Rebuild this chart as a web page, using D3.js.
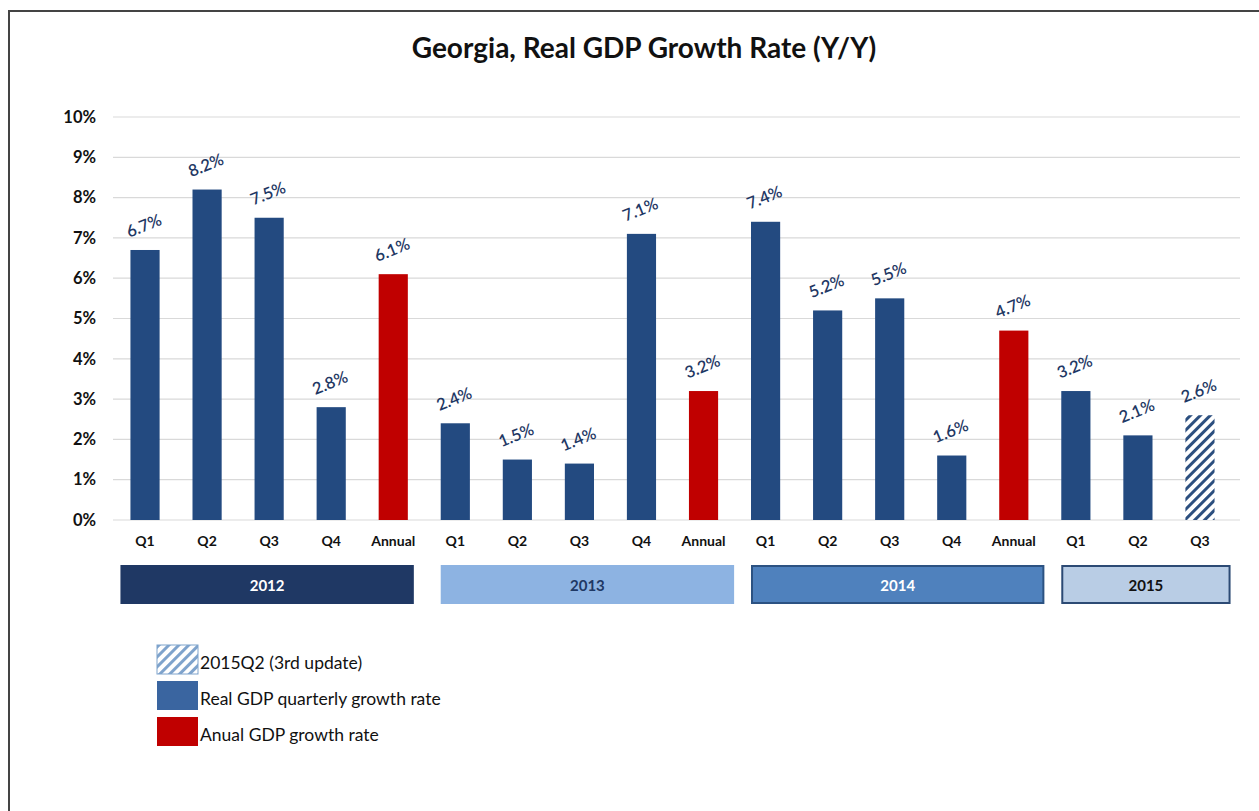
<!DOCTYPE html>
<html>
<head>
<meta charset="utf-8">
<script src="https://cdn.jsdelivr.net/npm/d3@7"></script>
<style>
  body { margin: 0; background: #fff; }
  text { font-family: Lato, "Open Sans", sans-serif; }
</style>
</head>
<body>
<script>
// data
const categories = ['Q1', 'Q2', 'Q3', 'Q4', 'Annual', 'Q1', 'Q2', 'Q3', 'Q4', 'Annual',
  'Q1', 'Q2', 'Q3', 'Q4', 'Annual', 'Q1', 'Q2', 'Q3'];
const growth = [6.7, 8.2, 7.5, 2.8, 6.1, 2.4, 1.5, 1.4, 7.1, 3.2, 7.4, 5.2, 5.5, 1.6, 4.7, 3.2, 2.1, 2.6];
const kinds = ['q', 'q', 'q', 'q', 'a', 'q', 'q', 'q', 'q', 'a', 'q', 'q', 'q', 'q', 'a', 'q', 'q', 'p'];
const years = ['2012', '2013', '2014', '2015'];
const yearStart = [0, 5, 10, 15];
const yearEnd = [4, 9, 14, 17];
const yTicks = [0, 1, 2, 3, 4, 5, 6, 7, 8, 9, 10];
const legendLabels = ['2015Q2 (3rd update)', 'Real GDP quarterly growth rate', 'Anual GDP growth rate'];

const W = 1259, H = 811;
const svg = d3.select('body').append('svg')
  .attr('width', W)
  .attr('height', H);

const defs = svg.append('defs');
const pat = defs.append('pattern')
  .attr('id', 'hatch')
  .attr('patternUnits', 'userSpaceOnUse')
  .attr('width', 7)
  .attr('height', 7)
  .attr('patternTransform', 'rotate(45)');
pat.append('rect').attr('width', 7).attr('height', 7).attr('fill', '#fff');
pat.append('rect').attr('width', 3).attr('height', 7).attr('fill', '#2c4f7f');

const patL = defs.append('pattern')
  .attr('id', 'hatchLight')
  .attr('patternUnits', 'userSpaceOnUse')
  .attr('width', 7)
  .attr('height', 7)
  .attr('patternTransform', 'rotate(45)');
patL.append('rect').attr('width', 7).attr('height', 7).attr('fill', '#fff');
patL.append('rect').attr('width', 3).attr('height', 7).attr('fill', '#7fa3cc');

// frame
svg.append('rect')
  .attr('x', 9).attr('y', 11)
  .attr('width', 1300).attr('height', 900)
  .attr('fill', 'none')
  .attr('stroke', '#444')
  .attr('stroke-width', 2);

svg.append('text')
  .attr('x', 644).attr('y', 58)
  .attr('text-anchor', 'middle')
  .attr('font-size', 28)
  .attr('font-weight', 'bold')
  .attr('fill', '#111')
  .text('Georgia, Real GDP Growth Rate (Y/Y)');

const x = d3.scaleBand()
  .domain(d3.range(categories.length))
  .range([114, 1231])
  .paddingInner(0.53)
  .paddingOuter(0.265);

const y = d3.scaleLinear()
  .domain([0, 10])
  .range([520, 117]);

// grid
svg.append('g')
  .selectAll('line')
  .data(yTicks)
  .enter()
  .append('line')
  .attr('x1', 113)
  .attr('x2', 1240)
  .attr('y1', d => y(d))
  .attr('y2', d => y(d))
  .attr('stroke', '#d9d9d9')
  .attr('stroke-width', 1.2);

// y axis labels
const yAxis = d3.axisLeft(y)
  .tickValues(yTicks)
  .tickSize(0)
  .tickPadding(0)
  .tickFormat(d => d + '%');
const yg = svg.append('g')
  .attr('transform', 'translate(96,0)')
  .call(yAxis);
yg.select('.domain').remove();
yg.selectAll('text')
  .attr('font-family', 'Lato, sans-serif')
  .attr('font-size', 16.5)
  .attr('font-weight', 'bold')
  .attr('fill', '#111');

// bars
const fillFor = k => k === 'a' ? '#c00000' : (k === 'p' ? 'url(#hatch)' : '#234a80');
svg.append('g')
  .selectAll('rect')
  .data(growth)
  .enter()
  .append('rect')
  .attr('x', (d, i) => x(i))
  .attr('y', d => y(d))
  .attr('width', x.bandwidth())
  .attr('height', d => y(0) - y(d))
  .attr('fill', (d, i) => fillFor(kinds[i]));

// value labels
svg.append('g')
  .selectAll('text')
  .data(growth)
  .enter()
  .append('text')
  .attr('transform', (d, i) => `translate(${x(i) + x.bandwidth() / 2 + 1},${y(d) - 19}) rotate(-22)`)
  .attr('text-anchor', 'middle')
  .attr('font-size', 16.5)
  .attr('font-weight', 600)
  .attr('fill', '#1f3864')
  .text(d => d.toFixed(1) + '%');

// category labels
const xAxis = d3.axisBottom(x)
  .tickSize(0)
  .tickPadding(0)
  .tickFormat(i => categories[i]);
const xg = svg.append('g')
  .attr('transform', 'translate(0,536)')
  .call(xAxis);
xg.select('.domain').remove();
xg.selectAll('text')
  .attr('font-family', 'Lato, sans-serif')
  .attr('font-size', 14)
  .attr('font-weight', 'bold')
  .attr('fill', '#111');

// year boxes
const yearFill = ['#1f3864', '#8db3e2', '#4f81bd', '#b9cde5'];
const yearStroke = ['#1f3864', '#8db3e2', '#2c5282', '#2c4a74'];
const yearText = ['#fff', '#1f3864', '#fff', '#111'];
const yearLeft = i => (i === 0 ? x(yearStart[i]) - 9 : x(yearStart[i]) + 1);
const yearRight = i => (i === 0 ? x(yearEnd[i]) + x.bandwidth() + 5 : x(yearEnd[i]) + x.bandwidth() + 15);
const yb = svg.append('g')
  .selectAll('g')
  .data(years)
  .enter()
  .append('g');
yb.append('rect')
  .attr('x', (d, i) => yearLeft(i))
  .attr('y', 566)
  .attr('width', (d, i) => yearRight(i) - yearLeft(i))
  .attr('height', 37)
  .attr('fill', (d, i) => yearFill[i])
  .attr('stroke', (d, i) => yearStroke[i])
  .attr('stroke-width', 2);
yb.append('text')
  .attr('x', (d, i) => (yearLeft(i) + yearRight(i)) / 2)
  .attr('y', 591)
  .attr('text-anchor', 'middle')
  .attr('font-family', '"Liberation Sans", Arial, sans-serif')
  .attr('font-size', 15)
  .attr('font-weight', 'bold')
  .attr('fill', (d, i) => yearText[i])
  .text(d => d);

// legend
const legFill = ['url(#hatchLight)', '#3a65a0', '#c00000'];
const leg = svg.append('g')
  .selectAll('g')
  .data(legendLabels)
  .enter()
  .append('g')
  .attr('transform', (d, i) => `translate(157,${645 + i * 36})`);
leg.append('rect')
  .attr('width', 41)
  .attr('height', 29)
  .attr('fill', (d, i) => legFill[i])
  .attr('stroke', (d, i) => i === 0 ? '#7fa3cc' : 'none');
leg.append('text')
  .attr('x', 43)
  .attr('y', 24)
  .attr('font-size', 17.5)
  .attr('fill', '#111')
  .text(d => d);
</script>
</body>
</html>
